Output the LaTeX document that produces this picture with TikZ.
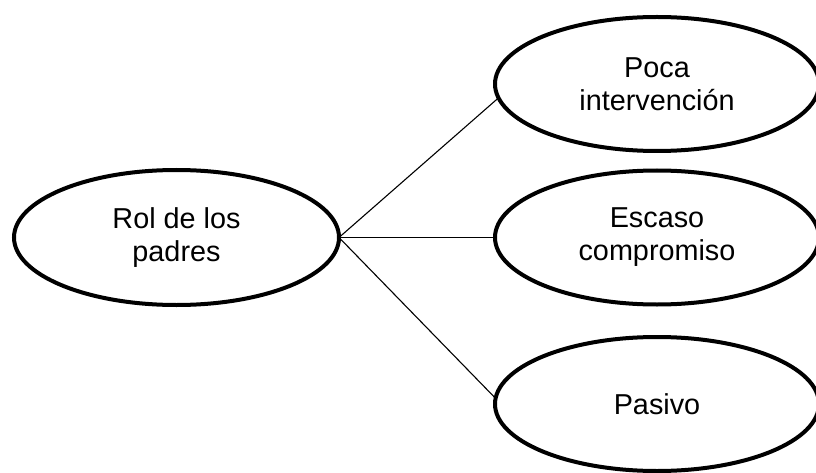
\documentclass[tikz,border=0pt]{standalone}
\usepackage{fontspec}
\setmainfont{Liberation Sans}
\usetikzlibrary{shapes.geometric}
\begin{document}
\begin{tikzpicture}[x=1pt,y=-1pt,
  oval/.style={ellipse,draw,line width=4pt,inner sep=0pt,outer sep=0pt,
    minimum width=324pt,minimum height=134pt,align=center,
    font=\fontsize{28.8}{33}\selectfont},
  link/.style={line width=1.1pt}]
\useasboundingbox (0,0) rectangle (816,473);
\node[oval,minimum width=325pt,minimum height=135pt] (rol) at (176.5,237.5) {Rol de los\\padres};
\node[oval] (poca) at (657,84) {Poca\\intervención};
\node[oval] (escaso) at (657,237.5) {Escaso\\compromiso};
\node[oval] (pasivo) at (657,404) {Pasivo};
\draw[link] (rol.east) -- (poca.185);
\draw[link] (rol.east) -- (escaso.west);
\draw[link] (rol.east) -- (pasivo.178);
\end{tikzpicture}
\end{document}
